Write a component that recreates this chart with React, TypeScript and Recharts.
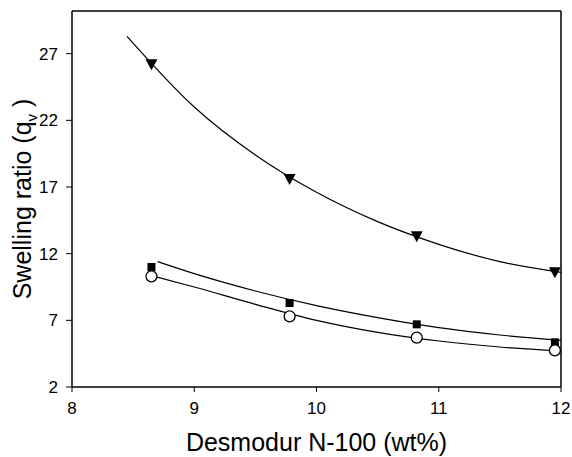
import React from "react";
import {
  ComposedChart,
  Line,
  Scatter,
  XAxis,
  YAxis,
  ReferenceLine,
} from "recharts";

// measured points (Desmodur N-100 wt% vs swelling ratio q_v)
const xPoints = [8.65, 9.78, 10.82, 11.95];
const triangleValues = [26.2, 17.6, 13.3, 10.6];
const squareValues = [11.0, 8.3, 6.7, 5.35];
const circleValues = [10.3, 7.3, 5.7, 4.75];

// fitted curves
const triCurveX = [8.45, 9, 9.5, 10, 10.5, 11, 11.5, 12];
const triCurveY = [28.3, 23.0, 19.4, 16.6, 14.4, 12.7, 11.4, 10.6];
const sqCurveX = [8.7, 9, 9.5, 10, 10.5, 11, 11.5, 12];
const sqCurveY = [11.4, 10.5, 9.2, 8.1, 7.2, 6.45, 5.9, 5.5];
const ciCurveX = [8.65, 9, 9.5, 10, 10.5, 11, 11.5, 12];
const ciCurveY = [10.35, 9.5, 8.2, 7.0, 6.1, 5.45, 5.0, 4.7];

const xTicks = [8, 9, 10, 11, 12];
const yTicks = [2, 7, 12, 17, 22, 27];
const Y_MAX = 30.2;

const FONT = "'Liberation Sans', Arial, Helvetica, sans-serif";
const TICK = { fontSize: 17, fill: "#000", fontFamily: FONT };

const zip = (xs: number[], ys: number[]) => xs.map((x, i) => ({ x, y: ys[i] }));

const triPts = zip(xPoints, triangleValues);
const sqPts = zip(xPoints, squareValues);
const ciPts = zip(xPoints, circleValues);
const triCurve = zip(triCurveX, triCurveY);
const sqCurve = zip(sqCurveX, sqCurveY);
const ciCurve = zip(ciCurveX, ciCurveY);

function TriangleDown(props: any) {
  const { cx, cy } = props;
  if (cx == null || cy == null) return null;
  return <path d={`M${cx - 6},${cy - 5} L${cx + 6},${cy - 5} L${cx},${cy + 6} Z`} fill="#000" />;
}

function Square(props: any) {
  const { cx, cy } = props;
  if (cx == null || cy == null) return null;
  return <rect x={cx - 4} y={cy - 4} width={8} height={8} fill="#000" />;
}

function OpenCircle(props: any) {
  const { cx, cy } = props;
  if (cx == null || cy == null) return null;
  return <circle cx={cx} cy={cy} r={5.5} fill="#fff" stroke="#000" strokeWidth={1.3} />;
}

function YLabel() {
  return (
    <text
      x={0}
      y={0}
      transform="translate(31,199) rotate(-90)"
      textAnchor="middle"
      fontSize={25}
      fontFamily={FONT}
      fill="#000"
    >
      Swelling ratio (q
      <tspan fontSize={15} dy={6}>v</tspan>
      <tspan dy={-6}> )</tspan>
    </text>
  );
}

export default function App() {
  return (
    <div style={{ position: "absolute", left: 0, top: 0, width: 572, height: 457, background: "#fff" }}>
      <ComposedChart width={572} height={457} margin={{ top: 11, right: 11, bottom: 0, left: 0 }}>
        <XAxis
          dataKey="x"
          type="number"
          domain={[8, 12]}
          ticks={xTicks}
          allowDataOverflow
          tick={TICK}
          tickSize={5}
          tickMargin={10}
          height={70}
          axisLine={{ stroke: "#000", strokeWidth: 1.5 }}
          tickLine={{ stroke: "#000" }}
          label={{
            value: "Desmodur N-100 (wt%)",
            position: "insideBottom",
            offset: 6,
            style: { fontSize: 25, fill: "#000", fontFamily: FONT },
          }}
        />
        <YAxis
          type="number"
          domain={[2, Y_MAX]}
          ticks={yTicks}
          allowDataOverflow
          tick={TICK}
          tickSize={6}
          tickMargin={8}
          width={72}
          axisLine={{ stroke: "#000", strokeWidth: 1.5 }}
          tickLine={{ stroke: "#000" }}
          label={{ content: () => <YLabel /> }}
        />
        <ReferenceLine y={Y_MAX} stroke="#000" strokeWidth={1.5} />
        <ReferenceLine x={12} stroke="#000" strokeWidth={1.5} />

        <Line data={triCurve} dataKey="y" type="monotone" stroke="#000" strokeWidth={1.2} dot={false} isAnimationActive={false} />
        <Line data={sqCurve} dataKey="y" type="monotone" stroke="#000" strokeWidth={1.2} dot={false} isAnimationActive={false} />
        <Line data={ciCurve} dataKey="y" type="monotone" stroke="#000" strokeWidth={1.2} dot={false} isAnimationActive={false} />

        <Scatter data={triPts} dataKey="y" shape={TriangleDown} isAnimationActive={false} />
        <Scatter data={sqPts} dataKey="y" shape={Square} isAnimationActive={false} />
        <Scatter data={ciPts} dataKey="y" shape={OpenCircle} isAnimationActive={false} />
      </ComposedChart>
    </div>
  );
}
